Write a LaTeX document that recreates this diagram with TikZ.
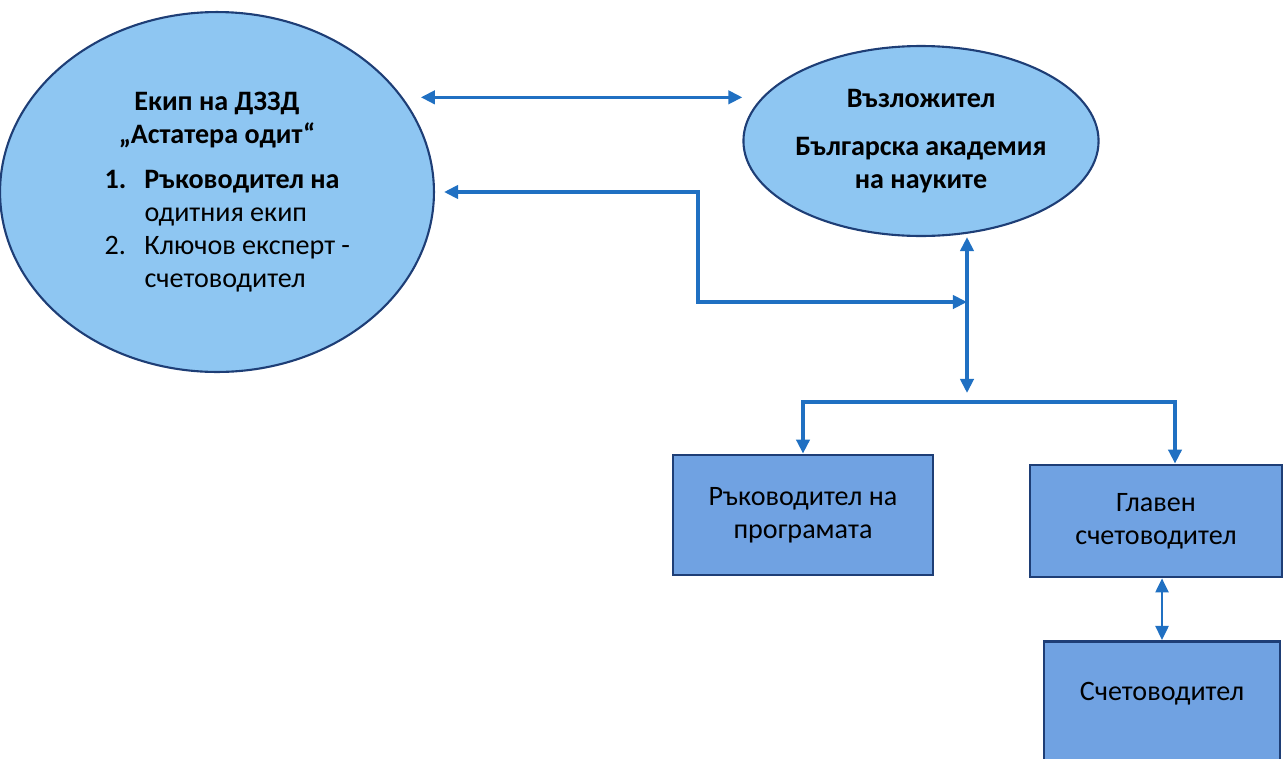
\documentclass[tikz,border=0pt]{standalone}
\usepackage{fontspec}
\setmainfont{Carlito}
\usetikzlibrary{arrows.meta}
\usetikzlibrary{shapes.geometric}

\definecolor{ovalfill}{RGB}{142,198,242}
\definecolor{boxfill}{RGB}{112,162,226}
\definecolor{rim}{RGB}{30,62,118}
\definecolor{linkblue}{RGB}{32,112,194}

\begin{document}
\begin{tikzpicture}[x=0.02cm,y=-0.02cm,font=\fontsize{16}{18.7}\selectfont]
    \useasboundingbox (0,0) rectangle (1283,758);
    \clip (0,0) rectangle (1283,758);

        % ovals, positions given in pixels of the page
        \begin{scope}[every node/.style={ellipse,draw=rim,line width=1.2pt,fill=ovalfill,align=center,inner sep=0pt}]
        \node[minimum width=8.68cm,minimum height=7.2cm] (team) at (217,192) {%
            \textbf{Екип на ДЗЗД}\\
            \textbf{„Астатера одит“}\\[7pt]
            \makebox[4.5cm][l]{\makebox[0.8cm][l]{\textbf{1.}}\textbf{Ръководител на}}\\
            \makebox[4.5cm][l]{\hspace{0.8cm}одитния екип}\\
            \makebox[4.5cm][l]{\makebox[0.8cm][l]{2.}Ключов експерт -}\\
            \makebox[4.5cm][l]{\hspace{0.8cm}счетоводител}};
        \node[minimum width=6.56cm,minimum height=3.8cm] (client) at (921,141) {%
            \textbf{Възложител}\\[9pt]
            \textbf{Българска академия}\\
            \textbf{на науките}};
        \end{scope}

        % boxes
        \begin{scope}[every node/.style={rectangle,draw=rim,line width=1.6pt,fill=boxfill,align=center}]
        \node[minimum width=5.2cm,minimum height=2.4cm] (prog) at (803,515) {Ръководител на\\програмата};
        \node[minimum width=5.04cm,minimum height=2.24cm] (chief) at (1156,521) {Главен\\счетоводител};
        \node[minimum width=4.72cm,minimum height=3cm,anchor=north,text depth=1cm] (acct) at (1162,640) {Счетоводител};
        \end{scope}

        \coordinate (bend) at (698,302);
        \coordinate (hub) at (967,302);
        \coordinate (split) at (967,402);

        % links
        \begin{scope}[>={Triangle[length=8pt,width=7.5pt]},
                  every edge/.style={draw=linkblue, line width=2pt}]
        \path [<->] ([xshift=0.36cm]team.27) edge (team.27 -| client.west);
        \path [<->] (client.south -| hub) edge ([yshift=0.18cm]split);
        \draw [<->, draw=linkblue, line width=2pt] ([xshift=0.18cm]team.east) -| (bend) -- (hub);
        \draw [->, draw=linkblue, line width=2pt] (split) -| (prog.north);
        \draw [->, draw=linkblue, line width=2pt] (split) -| ([xshift=0.38cm]chief.north);
        \path [<->] (chief.south -| acct.north) edge[line width=1.1pt] (acct.north);
        \end{scope}

\end{tikzpicture}
\end{document}
